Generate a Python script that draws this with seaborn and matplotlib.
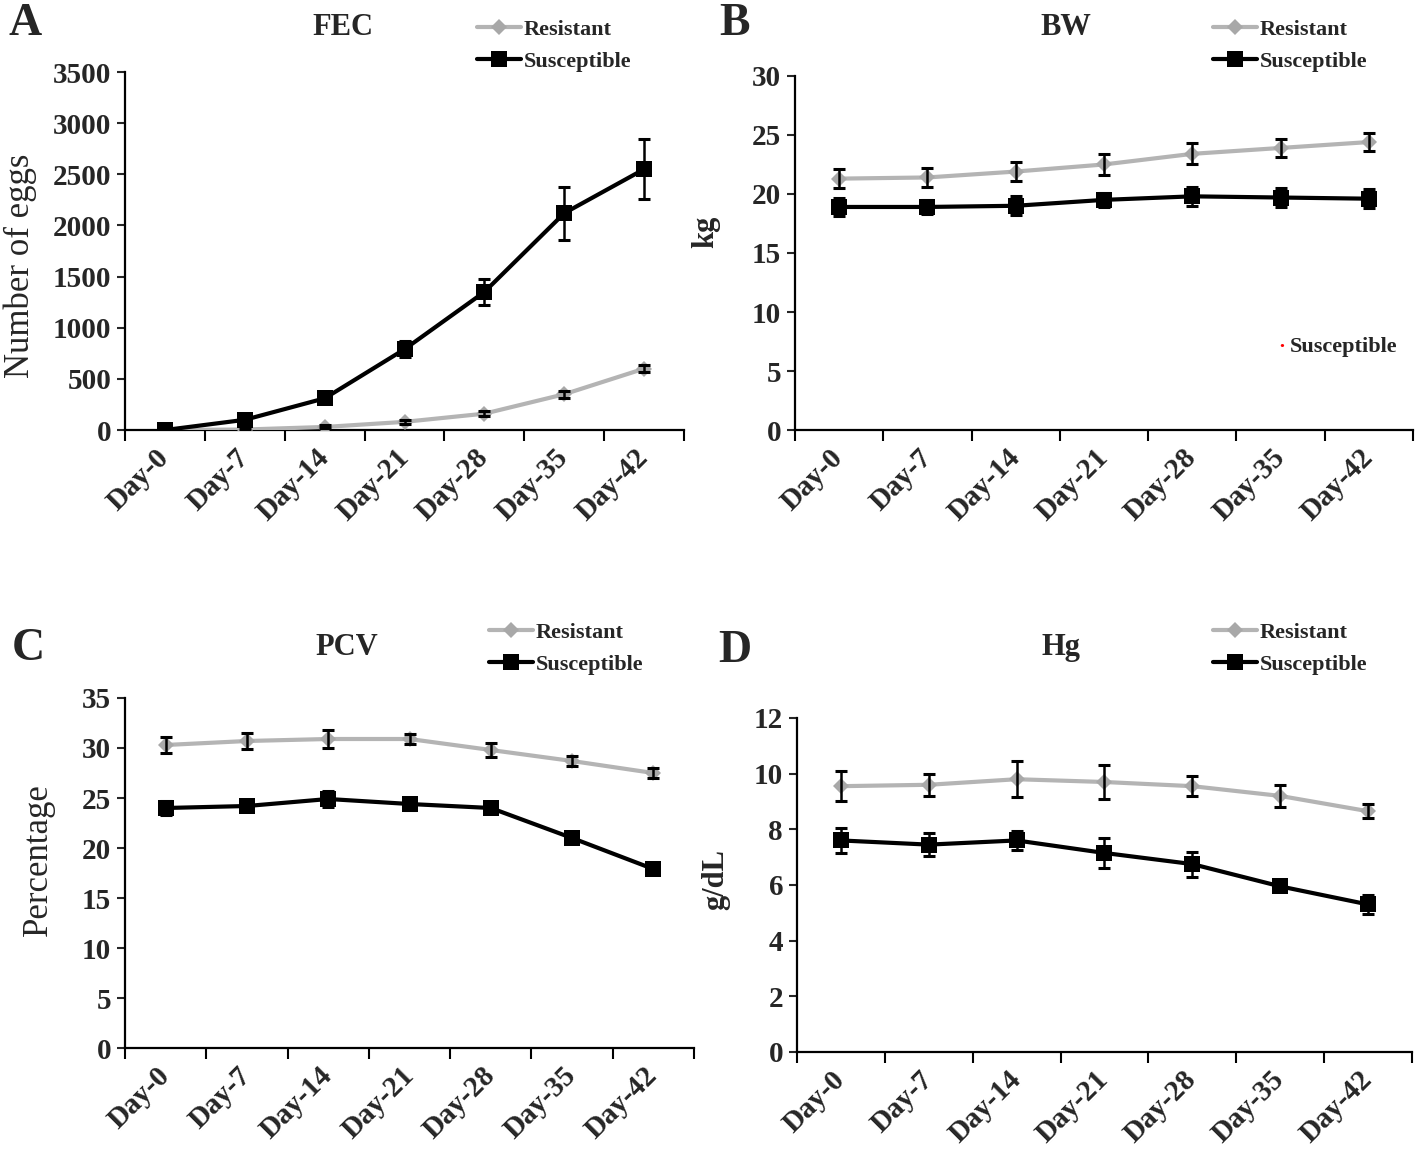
import numpy as np
import pandas as pd
import matplotlib
matplotlib.use('Agg')
import matplotlib.pyplot as plt
import seaborn as sns

# dados
days = ['Day-0', 'Day-7', 'Day-14', 'Day-21', 'Day-28', 'Day-35', 'Day-42']
groups = ['Resistant', 'Susceptible']

fec_res = [0, 5, 30, 80, 160, 350, 600]
fec_res_err = [10, 10, 15, 20, 25, 35, 35]
fec_sus = [0, 100, 310, 790, 1350, 2120, 2550]
fec_sus_err = [15, 25, 50, 80, 130, 260, 295]

bw_res = [21.3, 21.4, 21.9, 22.5, 23.4, 23.9, 24.4]
bw_res_err = [0.8, 0.8, 0.8, 0.9, 0.9, 0.8, 0.8]
bw_sus = [18.9, 18.9, 19.0, 19.5, 19.8, 19.7, 19.6]
bw_sus_err = [0.8, 0.6, 0.8, 0.6, 0.8, 0.8, 0.8]

pcv_res = [30.3, 30.7, 30.9, 30.9, 29.8, 28.7, 27.5]
pcv_res_err = [0.8, 0.8, 0.9, 0.5, 0.7, 0.5, 0.5]
pcv_sus = [24.0, 24.2, 24.9, 24.4, 24.0, 21.0, 17.9]
pcv_sus_err = [0.7, 0.5, 0.8, 0.6, 0.4, 0.4, 0.5]

hg_res = [9.55, 9.6, 9.8, 9.7, 9.55, 9.2, 8.65]
hg_res_err = [0.55, 0.4, 0.65, 0.6, 0.35, 0.4, 0.25]
hg_sus = [7.6, 7.45, 7.6, 7.15, 6.75, 5.95, 5.3]
hg_sus_err = [0.45, 0.4, 0.35, 0.55, 0.45, 0.15, 0.35]

sns.set_style('ticks')
plt.rcParams['font.family'] = ['Liberation Serif', 'DejaVu Serif']
plt.rcParams['font.weight'] = 'bold'
plt.rcParams['axes.labelweight'] = 'bold'

fig = plt.figure(figsize=(14.18, 11.56), dpi=100)

panels = [
    # letra, titulo, ylabel, peso do ylabel, dados, ylim, passo, rect, legenda, ylabel coords, titulo xy, letra xy
    ('A', 'FEC', 'Number of eggs', 'normal', (fec_res, fec_res_err, fec_sus, fec_sus_err),
     3500, 500, [0.0882, 0.628, 0.3942, 0.3097], (0.3364, 0.983), (-0.158, 0.46), (0.2419, 0.9766), (0.0176, 0.979)),
    ('B', 'BW', 'kg', 'bold', (bw_res, bw_res_err, bw_sus, bw_sus_err),
     30, 5, [0.5606, 0.628, 0.4359, 0.3063], (0.8554, 0.983), (-0.121, 0.56), (0.7518, 0.9766), (0.518, 0.979)),
    ('C', 'PCV', 'Percentage', 'normal', (pcv_res, pcv_res_err, pcv_sus, pcv_sus_err),
     35, 5, [0.0882, 0.0934, 0.4012, 0.3028], (0.3448, 0.4615), (-0.123, 0.537), (0.2447, 0.4403), (0.0197, 0.4385)),
    ('D', 'Hg', 'g/dL', 'bold', (hg_res, hg_res_err, hg_sus, hg_sus_err),
     12, 2, [0.562, 0.09, 0.4338, 0.2889], (0.8554, 0.4615), (-0.109, 0.515), (0.7482, 0.4403), (0.518, 0.4365)),
]

for letter, title, ylab, ylab_w, vals, ymax, step, rect, leg_xy, lab_xy, tit_xy, let_xy in panels:
    res, res_err, sus, sus_err = vals
    df = pd.DataFrame({
        'x': list(range(len(days))) * 2,
        'value': res + sus,
        'err': res_err + sus_err,
        'group': [groups[0]] * len(days) + [groups[1]] * len(days),
    })
    ax = fig.add_axes(rect)

    sns.lineplot(data=df, x='x', y='value', hue='group', style='group',
                 palette={'Resistant': '#b4b4b4', 'Susceptible': '#000000'},
                 markers={'Resistant': 'D', 'Susceptible': 's'}, dashes=False,
                 linewidth=3, markersize=12, markeredgewidth=0, ax=ax, zorder=3)
    # mudar o tamanho do losango
    for ln in ax.get_lines():
        if ln.get_marker() == 'D':
            ln.set_markersize(8.5)
            ln.set_markerfacecolor('#a8a8a8')
    for g in groups:
        sub = df[df['group'] == g]
        ax.errorbar(sub['x'], sub['value'], yerr=sub['err'], fmt='none',
                    ecolor='black', elinewidth=1.8, capsize=4.5, capthick=2.2, zorder=4)

    ax.set_xlim(-0.5, len(days) - 0.5)
    ax.set_ylim(0, ymax)
    ax.set_yticks(np.arange(0, ymax + step, step))
    ax.set_xticks(range(len(days)))
    ax.set_xticklabels(days, rotation=45, ha='right', va='center', rotation_mode='anchor',
                       fontsize=21, fontweight='bold')
    ax.set_xticks(np.arange(-0.5, len(days), 1), minor=True)
    ax.tick_params(axis='x', which='major', length=0, pad=17)
    ax.tick_params(axis='x', which='minor', length=8, width=1.5, color='black')
    ax.tick_params(axis='y', length=6, width=1.5, labelsize=21, pad=4)
    for t in ax.get_yticklabels():
        t.set_fontweight('bold')
    sns.despine(ax=ax)
    for s in ['left', 'bottom']:
        ax.spines[s].set_linewidth(1.6)
        ax.spines[s].set_color('black')

    ax.set_xlabel('')
    ax.set_ylabel(ylab, fontsize=25 if ylab_w == 'normal' else 22, fontweight=ylab_w)
    ax.yaxis.set_label_coords(*lab_xy)

    h, l = ax.get_legend_handles_labels()
    ax.legend(h, l, loc='upper left', bbox_to_anchor=leg_xy, bbox_transform=fig.transFigure,
              frameon=False, handlelength=2.0, handletextpad=0.1,
              labelspacing=0.5, borderpad=0, borderaxespad=0,
              prop={'weight': 'bold', 'size': 16})

    fig.text(tit_xy[0], tit_xy[1], title, ha='center', va='center', fontsize=22, fontweight='bold')
    fig.text(let_xy[0], let_xy[1], letter, ha='center', va='center', fontsize=33, fontweight='bold')

# texto solto que aparece no painel B
fig.text(0.904, 0.700, '\u00b7', color='red', ha='center', va='center', fontsize=15, fontweight='bold')
fig.text(0.9095, 0.700, 'Susceptible', ha='left', va='center', fontsize=16, fontweight='bold')

fig.savefig('out.png', dpi=100)
